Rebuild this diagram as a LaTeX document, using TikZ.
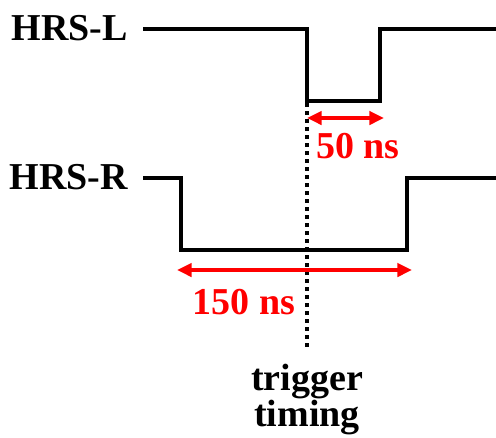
\documentclass[tikz,border=0pt]{standalone}
\usepackage{fontspec}
\setmainfont{Liberation Serif}
\usepackage{tikz}
\usetikzlibrary{arrows.meta,positioning,calc}

\begin{document}
\begin{tikzpicture}[
  x=0.75pt, y=-0.75pt,
  sig/.style={black, line width=3pt, line join=miter},
  lbl/.style={font=\fontsize{28.5}{28.5}\selectfont\bfseries, inner sep=0pt},
  dur/.style={red, line width=2.6pt, {Triangle[length=11pt,width=10pt]}-{Triangle[length=11pt,width=10pt]}},
  durlbl/.style={font=\fontsize{28.5}{28.5}\selectfont\bfseries\color{red}, inner sep=0pt},
  trig/.style={black, line width=3pt, dash pattern=on 3pt off 3pt},
]
\useasboundingbox (0,0) rectangle (496,437);

% high / low levels (px, y down)
\def\hiL{29}\def\loL{101}
\def\hiR{178}\def\loR{250}
\def\tT{307}

% HRS-L
\node[lbl, anchor=base east] (nameL) at (128,40) {HRS-L};
\coordinate (l0) at (143,\hiL);
\coordinate (l1) at (\tT,\hiL);
\coordinate (l2) at (\tT,\loL);
\coordinate (l3) at (380,\loL);
\coordinate (l4) at (380,\hiL);
\coordinate (l5) at (496,\hiL);
\draw[sig] (l0) -- (l1) -- (l2) -- (l3) -- (l4) -- (l5);

% HRS-R
\node[lbl, anchor=base east] (nameR) at (128,189) {HRS-R};
\coordinate (r0) at (143,\hiR);
\coordinate (r1) at (181,\hiR);
\coordinate (r2) at (181,\loR);
\coordinate (r3) at (407,\loR);
\coordinate (r4) at (407,\hiR);
\coordinate (r5) at (496,\hiR);
\draw[sig] (r0) -- (r1) -- (r2) -- (r3) -- (r4) -- (r5);

% trigger timing
\node[lbl, align=center, font=\fontsize{28.5}{27}\selectfont\bfseries] (trigger) at (\tT,399) {trigger\\timing};
\coordinate (tTop) at (\tT,103);
\coordinate (tBot) at (\tT,347);
\draw[trig] (tTop) -- (tBot);

% widths
\coordinate (a50) at (\tT,118);
\coordinate (b50) at (384,118);
\draw[dur] (a50) -- (b50);
\node[durlbl] (w50) at (358,146) {50 ns};

\coordinate (a150) at (177,270);
\coordinate (b150) at (412,270);
\draw[dur] (a150) -- (b150);
\node[durlbl] (w150) at (244,302) {150 ns};
\end{tikzpicture}
\end{document}
